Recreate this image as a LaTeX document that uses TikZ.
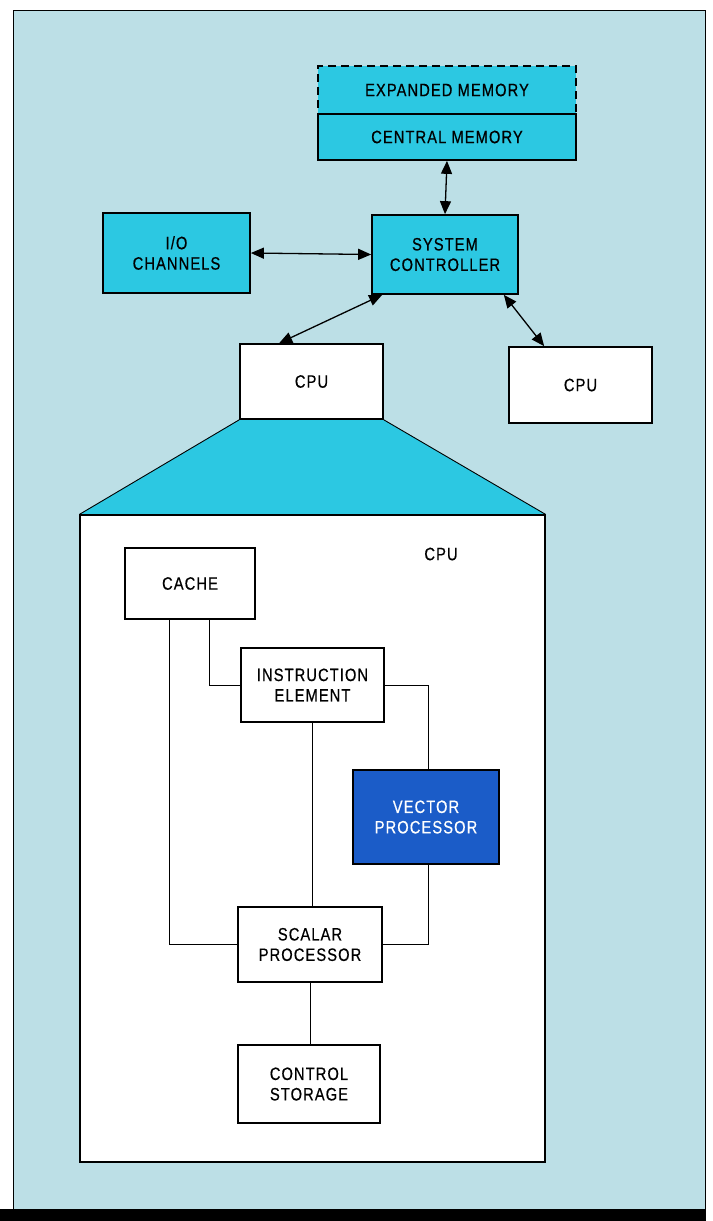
\documentclass[tikz,border=0pt]{standalone}
\usepackage{fontspec}
\setmainfont{Liberation Sans}[FakeStretch=0.82,LetterSpace=6,FakeBold=0.5]
\usetikzlibrary{arrows.meta,backgrounds}
\definecolor{bg}{HTML}{BCDFE6}
\definecolor{cyanf}{HTML}{2CC8E2}
\definecolor{vblue}{HTML}{1B5CC8}
\begin{document}
\begin{tikzpicture}[x=1bp,y=-1bp,
  box/.style={draw=black, line width=1.7bp, inner sep=0pt, align=center,
    font=\fontsize{18}{20.5}\selectfont},
  cbox/.style={box, fill=cyanf},
  wbox/.style={box, fill=white},
  link/.style={draw=black, line width=0.8bp},
  tip/.tip={Triangle[length=13bp,width=11bp]},
  arr/.style={draw=black, line width=1.3bp, tip-tip}
]
\useasboundingbox (0,0) rectangle (713,1221);
\begin{pgfonlayer}{background}
  \fill[white] (0,0) rectangle (713,1221);
  \fill[bg] (13,10) rectangle (705,1210);
  \draw[line width=1bp] (13,1210) -- (13,10) -- (705,10) -- (705,1210);
  \fill[black] (0,1209) rectangle (706,1221);
\end{pgfonlayer}

% top level
\node[cbox, dash pattern=on 8bp off 5bp, minimum width=258bp, minimum height=48bp] (EM) at (447,90) {EXPANDED MEMORY};
\node[cbox, minimum width=258bp, minimum height=46bp] (CM) at (447,137) {CENTRAL MEMORY};
\node[cbox, minimum width=146bp, minimum height=79bp] (SC) at (445,254.5) {SYSTEM\\CONTROLLER};
\node[cbox, minimum width=147bp, minimum height=80bp] (IO) at (176.5,253) {I/O\\CHANNELS};
\node[wbox, minimum width=143bp, minimum height=75bp] (CPUa) at (311.5,381.5) {CPU};
\node[wbox, minimum width=143bp, minimum height=76bp] (CPUb) at (580.5,385) {CPU};

% expanded CPU
\node[wbox, line width=1.2bp, minimum width=465bp, minimum height=647bp] (BIG) at (312.5,838.5) {};
\node[font=\fontsize{18}{20.5}\selectfont] (CPUlbl) at (441,554) {CPU};
\node[wbox, minimum width=130bp, minimum height=71bp] (CA) at (190,583.5) {CACHE};
\node[wbox, minimum width=143bp, minimum height=74bp] (IE) at (312.5,685) {INSTRUCTION\\ELEMENT};
\node[box, fill=vblue, text=white, minimum width=146bp, minimum height=94bp] (VP) at (426,817) {VECTOR\\PROCESSOR};
\node[wbox, minimum width=144bp, minimum height=75bp] (SP) at (310,944.5) {SCALAR\\PROCESSOR};
\node[wbox, minimum width=142bp, minimum height=78bp] (CS) at (309,1084) {CONTROL\\STORAGE};

\begin{pgfonlayer}{background}
  \fill[cyanf] (CPUa.south west) -- (CPUa.south east) -- (BIG.north east) -- (BIG.north west) -- cycle;
  \draw[line width=0.9bp] (CPUa.south west) -- (BIG.north west);
  \draw[line width=0.9bp] (CPUa.south east) -- (BIG.north east);
\end{pgfonlayer}

% arrows
\draw[arr] (CM.south) -- (SC.north);
\draw[arr] (IO.east) -- (SC.west);
\draw[arr] ([xshift=11bp]SC.south west) -- ([xshift=40bp]CPUa.north west);
\draw[arr] ([xshift=-15bp]SC.south east) -- ([xshift=36bp]CPUb.north west);

% inner links
\draw[link] ([xshift=-21bp]CA.south) |- (SP.west);
\draw[link] ([xshift=19bp]CA.south) |- (IE.west);
\draw[link] (IE.east) -| ([xshift=2bp]VP.north);
\draw[link] ([xshift=2bp]VP.south) |- (SP.east);
\draw[link] (IE.south) -- (IE.south |- SP.north);
\draw[link] (SP.south) -- (SP.south |- CS.north);
\end{tikzpicture}
\end{document}
